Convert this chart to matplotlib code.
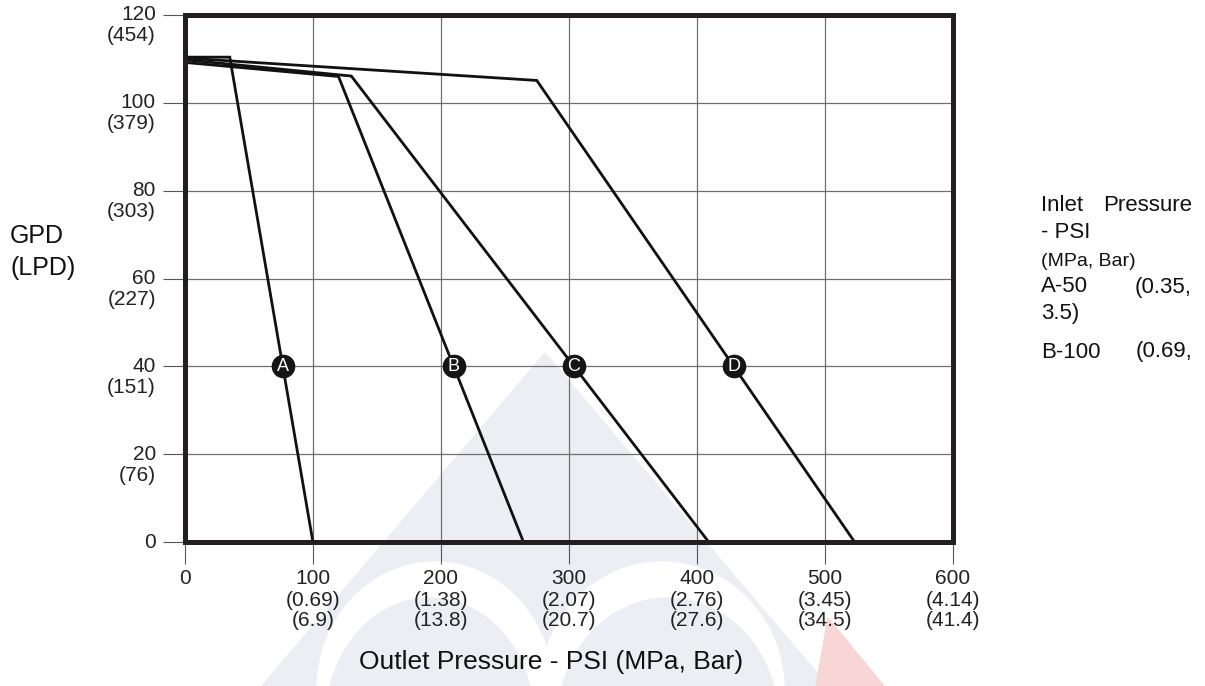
import numpy as np
import matplotlib
matplotlib.use("Agg")
import matplotlib.pyplot as plt
from matplotlib.patches import Polygon, Ellipse

plt.rcParams["font.family"] = ["Liberation Sans", "DejaVu Sans"]

# axis ticks and their secondary (metric) labels
psi_ticks = [0, 100, 200, 300, 400, 500, 600]
mpa_labels = ["", "(0.69)", "(1.38)", "(2.07)", "(2.76)", "(3.45)", "(4.14)"]
bar_labels = ["", "(6.9)", "(13.8)", "(20.7)", "(27.6)", "(34.5)", "(41.4)"]
gpd_ticks = [0, 20, 40, 60, 80, 100, 120]
lpd_labels = ["", "(76)", "(151)", "(227)", "(303)", "(379)", "(454)"]

# performance curves, one per inlet pressure
curve_names = ["A", "B", "C", "D"]
curve_psi = [
    [0, 35, 100],
    [0, 120, 264.6],
    [0, 130, 409.4],
    [0, 275, 523.5],
]
curve_gpd = [
    [110.4, 110.4, 0],
    [109.2, 106.0, 0],
    [109.8, 106.1, 0],
    [110.2, 105.1, 0],
]
marker_gpd = 40

# legend text on the right (justified: left word / right word)
legend_left = ["Inlet", "- PSI", "(MPa, Bar)", "A-50", "3.5)", "B-100"]
legend_right = ["Pressure", "", "", "(0.35,", "", "(0.69,"]

W, H = 1205, 686


def fx(x):
    return x / W


def fy(y):
    return 1 - y / H


fig = plt.figure(figsize=(W / 100, H / 100), dpi=100)

# faint logo watermark behind the chart
wm = "#eceef3"
fig.patches.append(Polygon([(fx(545), fy(353)), (fx(250), fy(700)), (fx(840), fy(700))],
                           closed=True, color=wm, transform=fig.transFigure, zorder=-3))
for cx, a in [(435, 118), (662, 122)]:
    fig.patches.append(Ellipse((fx(cx), fy(690)), 2 * a / W, 2 * 128 / H, color="white",
                               transform=fig.transFigure, zorder=-2))
for cx, a in [(430, 104), (668, 110)]:
    fig.patches.append(Ellipse((fx(cx), fy(720)), 2 * a / W, 2 * 122 / H, color=wm,
                               transform=fig.transFigure, zorder=-1))
fig.patches.append(Polygon([(fx(828), fy(618)), (fx(884), fy(686)), (fx(816), fy(686))],
                           closed=True, color="#f9d6d6", transform=fig.transFigure, zorder=-1))

ax = fig.add_axes([fx(185), fy(542), (952.5 - 185) / W, (542 - 15) / H])
ax.set_facecolor("none")

ax.set_xlim(0, 600)
ax.set_ylim(0, 120)
ax.set_xticks(psi_ticks)
ax.set_yticks(gpd_ticks)
ax.tick_params(direction="out", length=16, width=0.8, color="#555555",
               labelleft=False, labelbottom=False)
ax.grid(color="#707070", linewidth=0.9)
for s in ax.spines.values():
    s.set_linewidth(3.6)
    s.set_color("#231f20")
    s.set_zorder(4)

for name, xs, ys in zip(curve_names, curve_psi, curve_gpd):
    ax.plot(xs, ys, color="#111111", linewidth=2.0, zorder=3, solid_joinstyle="miter")
    xm = np.interp(marker_gpd, ys[::-1], xs[::-1])
    ax.plot(xm, marker_gpd, "o", ms=16, color="#151515", zorder=5)
    ax.text(xm, marker_gpd, name, color="white", fontsize=13, ha="center",
            va="center", zorder=6)

# y tick labels (GPD over LPD)
for v, lpd in zip(gpd_ticks, lpd_labels):
    ax.annotate(str(v), xy=(0, v), xycoords=("axes fraction", "data"),
                xytext=(-21, 0), textcoords="offset points",
                ha="right", va="center", fontsize=15, color="#222222")
    if lpd:
        ax.annotate(lpd, xy=(0, v), xycoords=("axes fraction", "data"),
                    xytext=(-21, -15.1), textcoords="offset points",
                    ha="right", va="center", fontsize=15, color="#222222")

# x tick labels (PSI over MPa over Bar)
for v, mpa, bar in zip(psi_ticks, mpa_labels, bar_labels):
    for txt, off in [(str(v), -26.6), (mpa, -41.8), (bar, -56.2)]:
        if txt:
            ax.annotate(txt, xy=(v, 0), xycoords=("data", "axes fraction"),
                        xytext=(0, off), textcoords="offset points",
                        ha="center", va="center", fontsize=15, color="#222222")

fig.text(fx(551), fy(662), "Outlet Pressure - PSI (MPa, Bar)", ha="center",
         va="center", fontsize=19, color="#111111")
fig.text(fx(10), fy(236), "GPD", ha="left", va="center", fontsize=18, color="#111111")
fig.text(fx(10), fy(268), "(LPD)", ha="left", va="center", fontsize=18, color="#111111")

legend_y = [206, 233, 261, 287, 313, 352]
for left, right, y in zip(legend_left, legend_right, legend_y):
    size = 14 if left.startswith("(") else 16
    fig.text(fx(1041), fy(y), left, ha="left", va="center", fontsize=size, color="#111111")
    if right:
        fig.text(fx(1192), fy(y), right, ha="right", va="center", fontsize=size,
                 color="#111111")

fig.savefig("out.png", dpi=100)
